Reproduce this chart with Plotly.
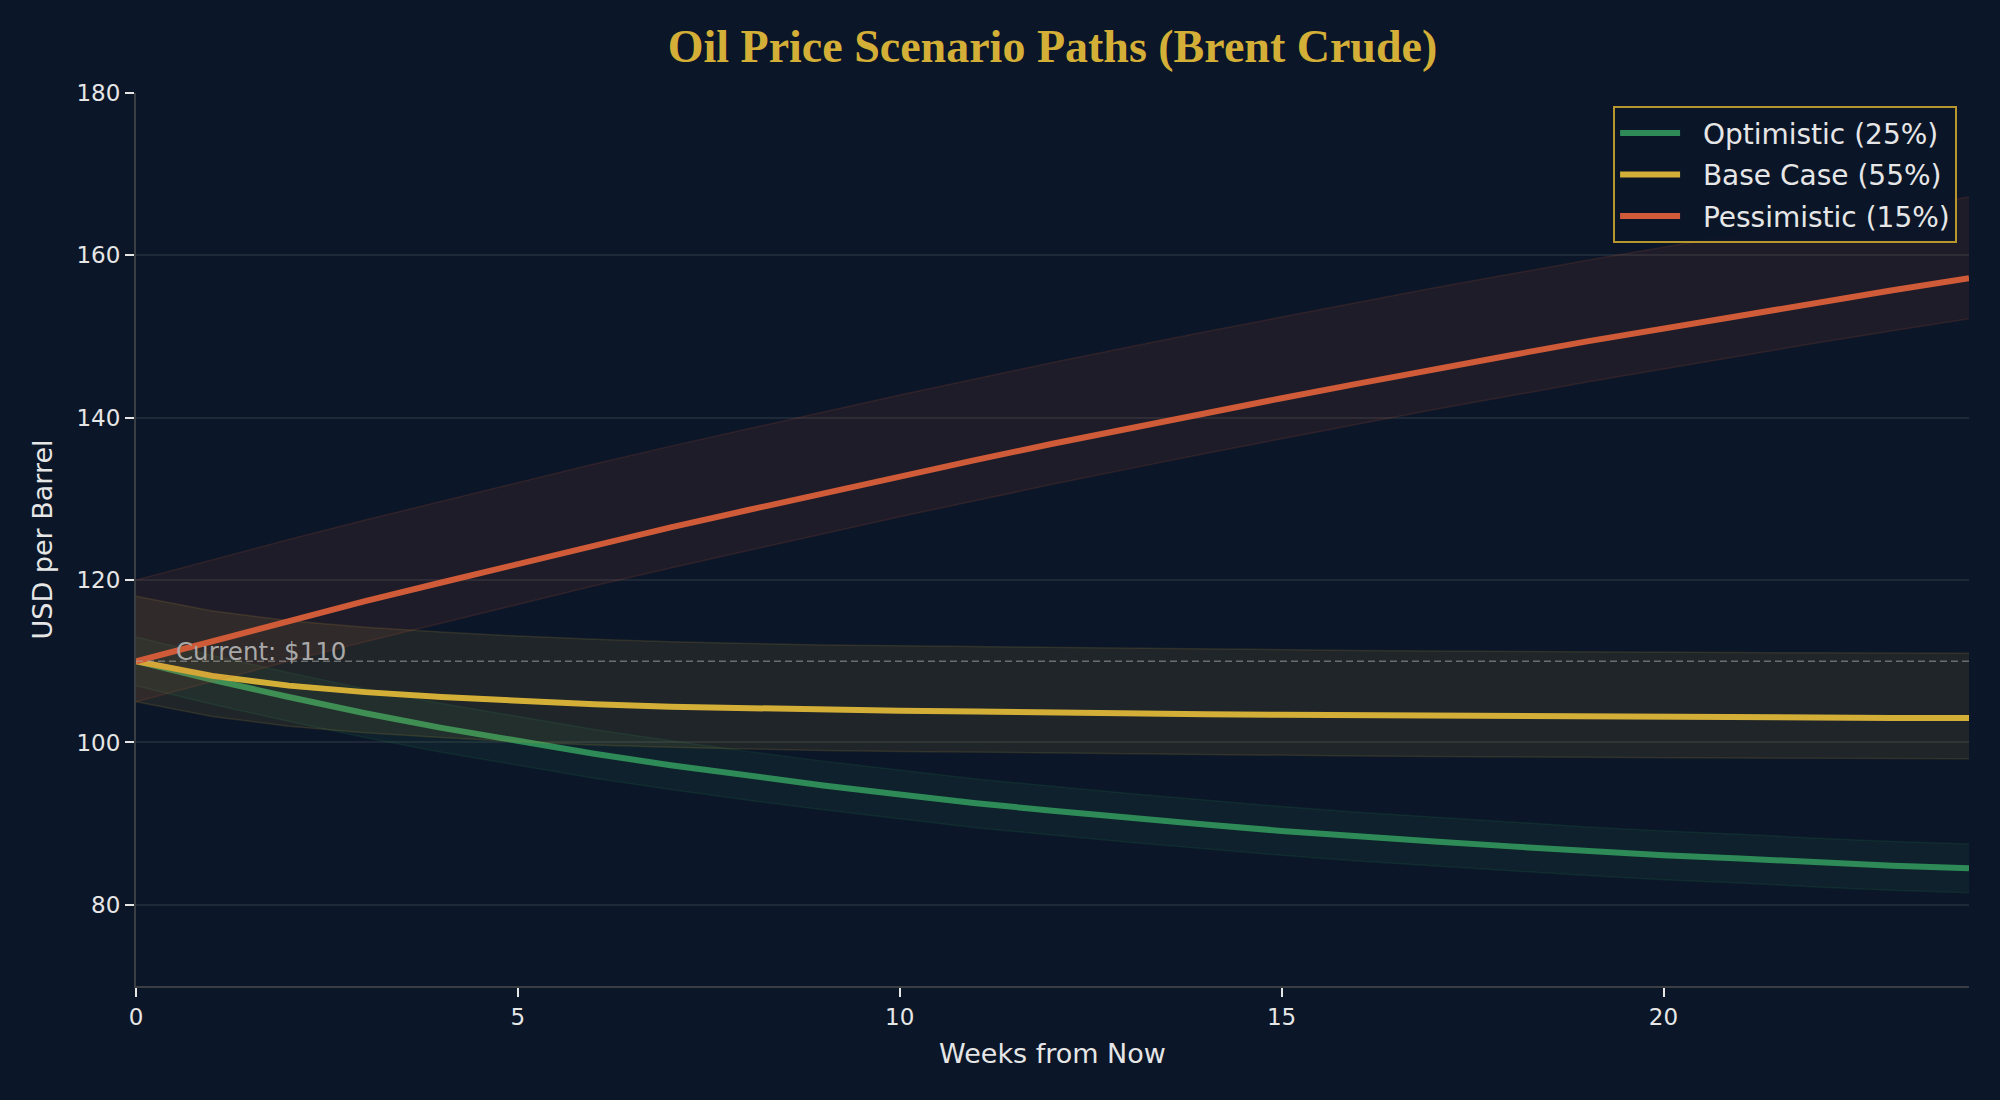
import plotly.graph_objects as go

# ---- data ----
weeks = list(range(25))
optimistic = [110.0, 107.7, 105.6, 103.6, 101.8, 100.2, 98.6, 97.2, 95.9, 94.7,
              93.6, 92.5, 91.6, 90.7, 89.9, 89.1, 88.4, 87.8, 87.2, 86.6,
              86.1, 85.7, 85.2, 84.8, 84.5]
base_case = [110.0, 108.2, 107.0, 106.2, 105.6, 105.1, 104.7, 104.4, 104.2, 104.0,
             103.9, 103.8, 103.65, 103.55, 103.48, 103.4, 103.33, 103.26, 103.2, 103.13,
             103.1, 103.07, 103.04, 103.02, 103.0]
pessimistic = [110.0, 112.5, 115.0, 117.4, 119.7, 122.0, 124.3, 126.5, 128.6, 130.7,
               132.8, 134.8, 136.8, 138.7, 140.6, 142.4, 144.2, 146.0, 147.7, 149.4,
               151.0, 152.6, 154.2, 155.7, 157.2]
# uncertainty band offsets (below, above)
optimistic_band = (3.0, 3.0)
base_band = (5.0, 8.0)
pessimistic_band = (5.0, 10.0)

series_names = ["Optimistic (25%)", "Base Case (55%)", "Pessimistic (15%)"]
current_price = 110
current_label = "Current: $110"
title_text = "Oil Price Scenario Paths (Brent Crude)"
x_title = "Weeks from Now"
y_title = "USD per Barrel"

# ---- styling ----
BG = "#0b1628"
colors = ["#2e8b57", "#d4af37", "#cf5b38"]
rgb = [(46, 139, 87), (212, 175, 55), (207, 91, 56)]
TEXT = "#e6e6e6"
FONT = "DejaVu Sans"

fig = go.Figure()
for name, vals, band, col, (r, g, b) in zip(
        series_names, [optimistic, base_case, pessimistic],
        [optimistic_band, base_band, pessimistic_band], colors, rgb):
    lower = [v - band[0] for v in vals]
    upper = [v + band[1] for v in vals]
    edge = f"rgba({r},{g},{b},0.14)"
    fig.add_trace(go.Scatter(x=weeks, y=lower, mode="lines",
                             line=dict(color=edge, width=1.5),
                             showlegend=False, hoverinfo="skip"))
    fig.add_trace(go.Scatter(x=weeks, y=upper, mode="lines", fill="tonexty",
                             fillcolor=f"rgba({r},{g},{b},0.10)",
                             line=dict(color=edge, width=1.5),
                             showlegend=False, hoverinfo="skip"))
    fig.add_trace(go.Scatter(x=weeks, y=vals, mode="lines",
                             name="&nbsp;&nbsp;" + name,
                             legendgroup=name,
                             line=dict(color=col, width=6)))

fig.add_shape(type="line", xref="x", yref="y", x0=0, x1=24,
              y0=current_price, y1=current_price,
              line=dict(color="rgba(170,170,170,0.55)", width=1.4, dash="7px,4px"))
fig.add_annotation(x=0.5, y=current_price, xref="x", yref="y",
                   text=current_label, showarrow=False,
                   xanchor="left", yanchor="bottom", yshift=-7,
                   font=dict(family=FONT, size=24.5, color="#a8a8a8"))

fig.update_layout(
    width=2000, height=1100,
    paper_bgcolor=BG, plot_bgcolor=BG,
    margin=dict(l=136, r=31, t=93, b=114),
    title=dict(text=f"<b>{title_text}</b>", x=0.5, xref="paper",
               y=1 - 46 / 1100, yref="container", yanchor="middle",
               font=dict(family="Liberation Serif", size=46, color="#d4af37")),
    font=dict(family=FONT, color=TEXT),
    legend=dict(x=0.9935, y=0.985, xanchor="right", yanchor="top",
                bgcolor="rgba(11,22,40,0.92)", bordercolor="#b8962e",
                borderwidth=2, font=dict(family=FONT, size=28, color=TEXT),
                tracegroupgap=2, itemwidth=60),
    showlegend=True,
)
fig.update_xaxes(range=[0, 24], dtick=5, tick0=0, showgrid=False, zeroline=False,
                 showline=True, linecolor="#3a3d42", linewidth=2,
                 ticks="outside", ticklen=9, tickwidth=1.6, tickcolor="#e6e6e6",
                 tickfont=dict(family=FONT, size=23, color=TEXT),
                 title=dict(text=x_title, standoff=16,
                            font=dict(family=FONT, size=27, color=TEXT)))
fig.update_yaxes(range=[70, 180], dtick=20, tick0=0, showgrid=True,
                 gridcolor="#1e2836", gridwidth=1.5, zeroline=False,
                 showline=True, linecolor="#3a3d42", linewidth=2,
                 ticks="outside", ticklen=9, tickwidth=1.6, tickcolor="#e6e6e6",
                 tickfont=dict(family=FONT, size=23, color=TEXT),
                 title=dict(text=y_title, standoff=16,
                            font=dict(family=FONT, size=27, color=TEXT)))

fig.write_html("out.html",
               config={"displayModeBar": False},
               post_script="document.body.style.margin='0';"
                           "document.body.style.overflow='hidden';"
                           f"document.body.style.background='{BG}';")
